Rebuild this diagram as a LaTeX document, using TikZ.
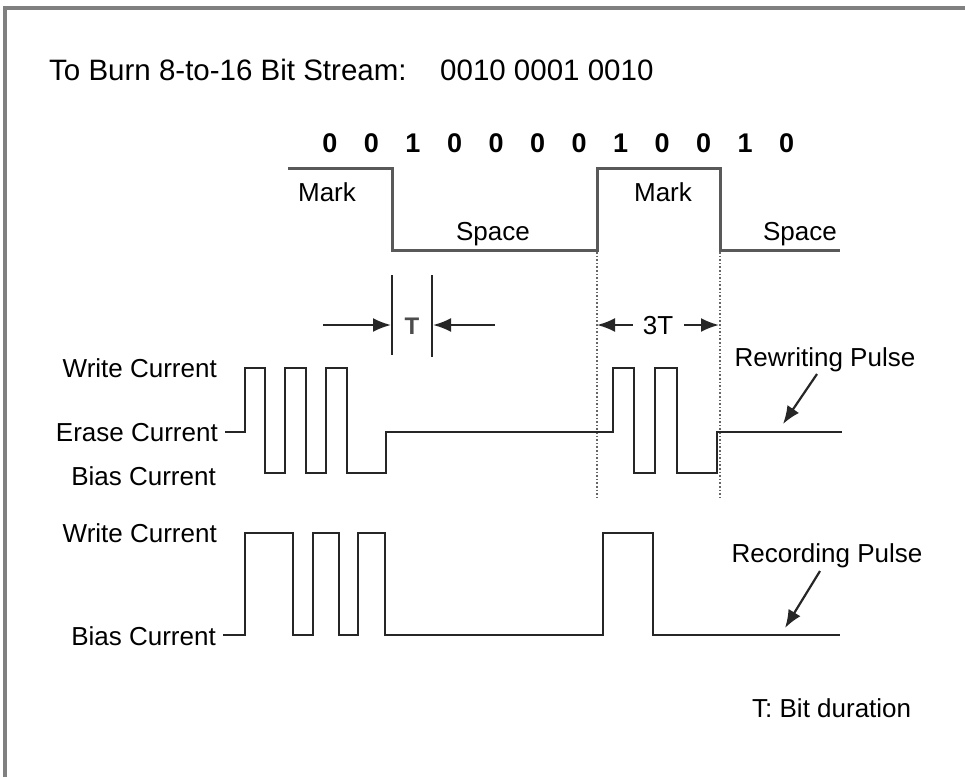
\documentclass[tikz,border=0pt]{standalone}
\usepackage{fontspec}
\setmainfont{Liberation Sans}
\usetikzlibrary{arrows.meta,positioning}
\tikzset{
  lbl/.style    = {font=\fontsize{26}{30}\selectfont, inner sep=0pt,
                   text height=0.72em, text depth=0pt},
  bitlbl/.style = {font=\fontsize{27}{30}\selectfont\bfseries, inner sep=0pt,
                   text height=0.72em, text depth=0pt},
  wave/.style   = {line width=2.4pt, draw=black!85, line join=miter},
  marker/.style = {line width=2pt, draw=black!85},
  sig/.style    = {-{Latex[length=18pt,width=14pt]}, line width=2.2pt, draw=black!85},
  guide/.style  = {dotted, line width=1.6pt, draw=black!60},
}

\begin{document}
\begin{tikzpicture}[x=1pt,y=-1pt]
\useasboundingbox (0,0) rectangle (965,777);
% frame
\draw[line width=4pt, black!50] (5,777) -- (5,8) -- (965,8);
% heading
\node[lbl,font=\fontsize{29.5}{33}\selectfont,anchor=west] (title) at (49,77) {To Burn 8-to-16 Bit Stream:};
\node[lbl,font=\fontsize{29.5}{33}\selectfont,anchor=west] (stream) at (440,77) {0010 0001 0010};
% channel bits
\foreach \b [count=\i] in {0,0,1,0,0,0,0,1,0,0,1,0}
  \node[bitlbl] (bit\i) at ({330+41.5*(\i-1)},149) {\b};
% mark / space waveform
\draw[wave,black!65,line width=3pt] (288,168) -- (392,168) -- (392,250) -- (597,250)
  -- (597,168) -- (720,168) -- (720,250) -- (840,250);
\node[lbl] (markA)  at (327,198) {Mark};
\node[lbl] (spaceA) at (493,237) {Space};
\node[lbl] (markB)  at (663,198) {Mark};
\node[lbl] (spaceB) at (800,237) {Space};
% guides
\draw[guide] (597,252) -- (597,497);
\draw[guide] (720,252) -- (720,497);
% bit duration T
\draw[marker] (392,275) -- (392,355);
\draw[marker] (432,275) -- (432,357);
\node[bitlbl,font=\fontsize{24}{28}\selectfont\bfseries,text=black!70] (tlbl) at (412,331) {T};
\coordinate (tl) at (323,325);
\coordinate (tr) at (495,325);
\draw[sig] (tl) -- (391,325);
\draw[sig] (tr) -- (433,325);
% 3T
\node[lbl] (tthree) at (658,331) {3T};
\draw[sig] (tthree.west) ++(-10,-6) -- (597,325);
\draw[sig] (tthree.east) ++(11,-6) -- (719,325);
% rewriting pulse
\node[lbl,anchor=east] (wrA) at (217,374) {Write Current};
\node[lbl,anchor=east] (erA) at (218,438) {Erase Current};
\node[lbl,anchor=east] (biA) at (216,482) {Bias Current};
\draw[wave] (225,432) -- (245,432) -- (245,368) -- (265,368) -- (265,473)
  -- (285,473) -- (285,368) -- (306,368) -- (306,473) -- (326,473)
  -- (326,368) -- (347,368) -- (347,473) -- (386,473) -- (386,432)
  -- (613,432) -- (613,368) -- (634,368) -- (634,473) -- (655,473)
  -- (655,368) -- (677,368) -- (677,473) -- (717,473) -- (717,432) -- (842,432);
\node[lbl] (rwlbl) at (825,363) {Rewriting Pulse};
\coordinate (rwtail) at (817,374);
\coordinate (rwtip) at (783,424);
\draw[sig] (rwtail) -- (rwtip);
% recording pulse
\node[lbl,anchor=east] (wrB) at (217,539) {Write Current};
\node[lbl,anchor=east] (biB) at (216,642) {Bias Current};
\draw[wave] (223,635) -- (245,635) -- (245,533) -- (293,533) -- (293,635)
  -- (313,635) -- (313,533) -- (339,533) -- (339,635) -- (358,635)
  -- (358,533) -- (385,533) -- (385,635) -- (603,635) -- (603,533)
  -- (653,533) -- (653,635) -- (840,635);
\node[lbl] (reclbl) at (827,559) {Recording Pulse};
\coordinate (rctail) at (820,571);
\coordinate (rctip) at (785,628);
\draw[sig] (rctail) -- (rctip);
% legend
\node[lbl,anchor=west] (legend) at (752,714) {T: Bit duration};
\end{tikzpicture}
\end{document}
